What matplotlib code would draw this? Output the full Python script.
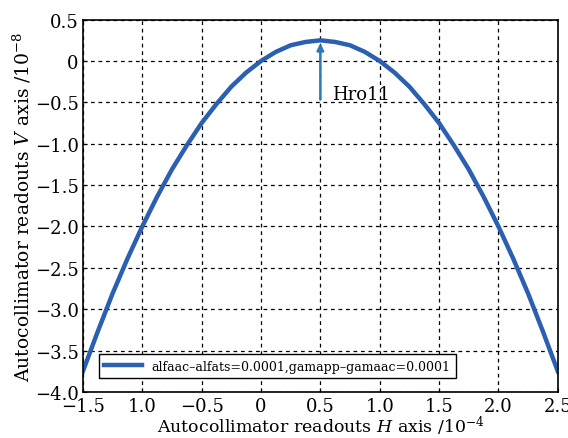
import numpy as np
import matplotlib.pyplot as plt

plt.rcParams['font.family'] = ['DejaVu Serif']
plt.rcParams['mathtext.fontset'] = 'dejavuserif'

# Curve
h_vals = [-1.5, -1.375, -1.25, -1.125, -1.0, -0.875, -0.75, -0.625, -0.5, -0.375,
          -0.25, -0.125, 0.0, 0.125, 0.25, 0.375, 0.5, 0.625, 0.75, 0.875, 1.0,
          1.125, 1.25, 1.375, 1.5, 1.625, 1.75, 1.875, 2.0, 2.125, 2.25, 2.375, 2.5]
v_vals = [-3.75, -3.27, -2.81, -2.39, -2.0, -1.64, -1.31, -1.02, -0.75, -0.52,
          -0.31, -0.14, 0.0, 0.11, 0.19, 0.23, 0.25, 0.23, 0.19, 0.11, 0.0,
          -0.14, -0.31, -0.52, -0.75, -1.02, -1.31, -1.64, -2.0, -2.39, -2.81, -3.27, -3.75]

x_ticks = [-1.5, -1.0, -0.5, 0, 0.5, 1.0, 1.5, 2.0, 2.5]
x_labels = ['\u22121.5', '1.0', '\u22120.5', '0', '0.5', '1.0', '1.5', '2.0', '2.5']
y_ticks = [0.5, 0, -0.5, -1.0, -1.5, -2.0, -2.5, -3.0, -3.5, -4.0]
y_labels = ['0.5', '0', '\u22120.5', '\u22121.0', '\u22121.5', '\u22122.0',
            '\u22122.5', '\u22123.0', '\u22123.5', '\u22124.0']

legend_text = 'alfaac\u2013alfats=0.0001,gamapp\u2013gamaac=0.0001'
peak_h, peak_v = 0.5, 0.25
arrow_start = -0.5

fig = plt.figure(figsize=(5.68, 4.39), dpi=100)
ax = fig.add_axes([0.146, 0.105, 0.836, 0.848])

ax.plot(h_vals, v_vals, color='#2b5fb0', linewidth=3.2, label=legend_text,
        solid_joinstyle='round')

# arrow marking the peak
ax.annotate('', xy=(peak_h, peak_v), xytext=(peak_h, arrow_start),
            arrowprops=dict(arrowstyle='-|>', color='#2a7ab8', lw=1.8, mutation_scale=10))
ax.text(0.6, -0.40, 'Hro11', fontsize=13, va='center')

ax.set_xlim(-1.5, 2.5)
ax.set_ylim(-4.0, 0.5)
ax.set_xticks(x_ticks)
ax.set_xticklabels(x_labels)
ax.set_yticks(y_ticks)
ax.set_yticklabels(y_labels)
ax.tick_params(direction='in', labelsize=13, length=3, pad=3)
ax.tick_params(axis='x', pad=4)
ax.grid(True, color='black', linestyle=(0, (3, 3)), linewidth=0.9)

for s in ax.spines.values():
    s.set_linewidth(1.2)

ax.set_xlabel('Autocollimator readouts $H$ axis /10$^{-4}$', fontsize=12.5, labelpad=-1)
ax.set_ylabel('Autocollimator readouts $V$ axis /10$^{-8}$', fontsize=13.5, labelpad=1)

leg = ax.legend(loc='lower left', fontsize=9, fancybox=False, framealpha=1,
                edgecolor='black', borderpad=0.45, handlelength=3,
                bbox_to_anchor=(0.02, 0.02))
leg.get_frame().set_linewidth(1.0)

fig.savefig('out.png', dpi=100)
